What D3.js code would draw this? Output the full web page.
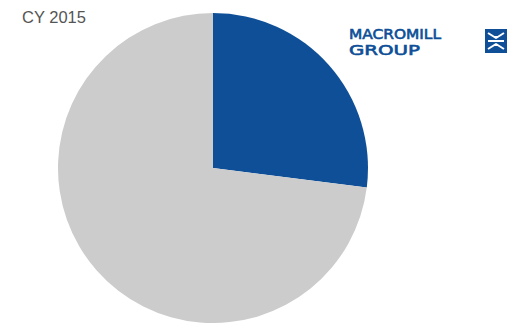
<!DOCTYPE html>
<html>
<head>
<meta charset="utf-8">
<script src="https://cdn.jsdelivr.net/npm/d3@7"></script>
<style>
  html, body { margin: 0; padding: 0; background: #fff; }
  svg { display: block; }
</style>
</head>
<body>
<svg id="chart" width="526" height="323"></svg>
<script>
// Share of the year, in percent
const segments = ["Macromill", "Other"];
const shares = [27, 73];
const colors = ["#0e4f98", "#cccccc"];
const title = "CY 2015";

const svg = d3.select("#chart");
const cx = 213, cy = 168, radius = 155;

const pie = d3.pie().sort(null).value(d => d)(shares);
const arc = d3.arc().innerRadius(0).outerRadius(radius);

svg.append("g")
  .attr("transform", `translate(${cx},${cy})`)
  .selectAll("path")
  .data(pie)
  .join("path")
  .attr("d", arc)
  .attr("fill", (d, i) => colors[i]);

// Year label
svg.append("text")
  .attr("x", 22)
  .attr("y", 22.5)
  .attr("font-family", "Liberation Sans, Arial, sans-serif")
  .attr("font-size", 16.5)
  .attr("fill", "#555")
  .text(title);

// Brand mark
const logo = svg.append("g");
const blue = "#0e4f98";
const word = (txt, y, len) => logo.append("text")
  .attr("x", 349).attr("y", y)
  .attr("font-family", "DejaVu Sans, sans-serif")
  .attr("font-size", 13.4)
  .attr("fill", blue)
  .attr("stroke", blue)
  .attr("stroke-width", 0.6)
  .attr("textLength", len)
  .attr("lengthAdjust", "spacingAndGlyphs")
  .text(txt);
word("MACROMILL", 38.7, 92);
word("GROUP", 54.7, 71);

const ix = 485, iy = 29, iw = 22, ih = 24;
logo.append("rect")
  .attr("x", ix).attr("y", iy).attr("width", iw).attr("height", ih)
  .attr("fill", blue);
const mx = ix + iw / 2, my = iy + ih / 2;
const lines = [
  [[ix + 3, iy + 4], [mx, my - 3]],
  [[ix + iw - 3, iy + 4], [mx, my - 3]],
  [[ix + 3, iy + ih - 4], [mx, my + 3]],
  [[ix + iw - 3, iy + ih - 4], [mx, my + 3]],
  [[ix + 3, my], [ix + iw - 3, my]]
];
logo.selectAll("line.mark")
  .data(lines)
  .join("line")
  .attr("x1", d => d[0][0]).attr("y1", d => d[0][1])
  .attr("x2", d => d[1][0]).attr("y2", d => d[1][1])
  .attr("stroke", "#fff")
  .attr("stroke-width", 2);
// Arrowheads meeting at the middle bar
logo.selectAll("path.tip")
  .data([[-1], [1]])
  .join("path")
  .attr("d", d => {
    const s = d[0];
    return `M${mx - 3},${my + s * 5}L${mx + 3},${my + s * 5}L${mx},${my + s * 2}Z`;
  })
  .attr("fill", "#fff");
</script>
</body>
</html>
